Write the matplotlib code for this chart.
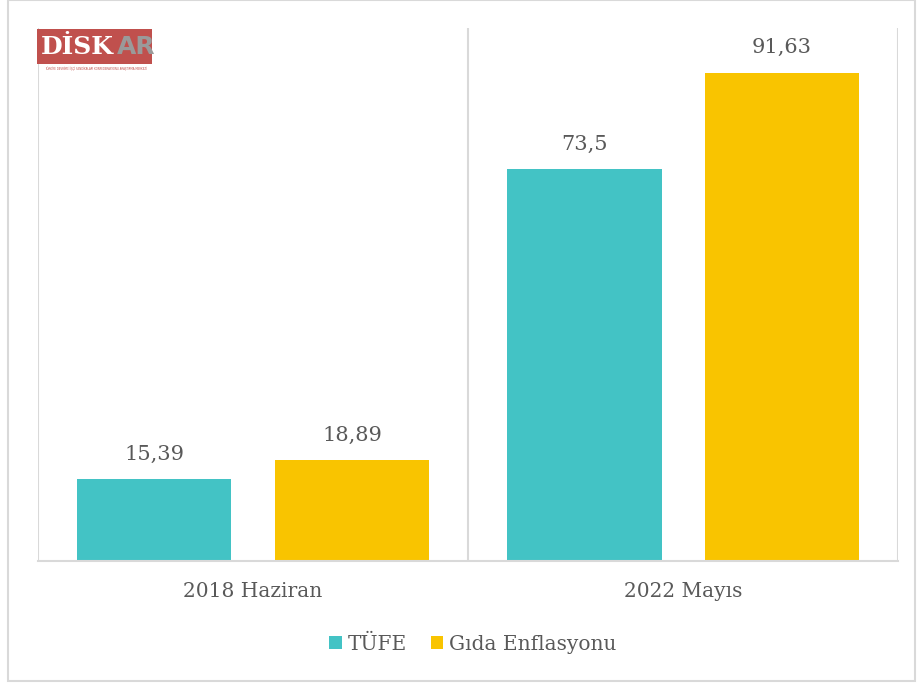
import numpy as np
import matplotlib.pyplot as plt
from matplotlib.patches import Rectangle

# veriler
categories = ["2018 Haziran", "2022 Mayıs"]
tufe = [15.39, 73.5]
gida = [18.89, 91.63]
tufe_labels = ["15,39", "73,5"]
gida_labels = ["18,89", "91,63"]
series_names = ["TÜFE", "Gıda Enflasyonu"]

TEAL = "#43C3C5"
YELLOW = "#F9C400"
TEXT = "#595959"
GRID = "#D9D9D9"

plt.rcParams["font.family"] = ["DejaVu Serif"]

fig = plt.figure(figsize=(9.18, 6.84), dpi=100)
W, H = 918, 684
ax = fig.add_axes([38 / W, 1 - 561 / H, (898 - 38) / W, (561 - 28) / H])

x = np.arange(len(categories))
width = 0.36
offset = 0.23
b1 = ax.bar(x - offset, tufe, width, color=TEAL, label=series_names[0], zorder=2)
b2 = ax.bar(x + offset, gida, width, color=YELLOW, label=series_names[1], zorder=2)

for bars, labels in ((b1, tufe_labels), (b2, gida_labels)):
    for rect, lab in zip(bars, labels):
        ax.annotate(lab, (rect.get_x() + rect.get_width() / 2, rect.get_height()),
                    xytext=(0, 11), textcoords="offset points", ha="center", va="bottom",
                    fontsize=15, color=TEXT)

ax.set_xlim(-0.5, 1.5)
ax.set_ylim(0, 100)
ax.set_yticks([])
ax.set_xticks(x)
ax.set_xticklabels(categories, fontsize=14.5, color=TEXT)
ax.tick_params(axis="x", length=0, pad=15)

# kategori ayırıcı çizgiler
for xv in (-0.5, 0.5, 1.5):
    ax.axvline(xv, color=GRID, lw=1.5, zorder=1)
for s in ("top", "right", "left"):
    ax.spines[s].set_visible(False)
ax.spines["bottom"].set_color(GRID)
ax.spines["bottom"].set_linewidth(1.5)

leg = fig.legend(handles=[b1, b2], loc="center", bbox_to_anchor=(473 / W, 1 - 644 / H),
                 ncol=2, frameon=False, fontsize=14.5, handlelength=0.6, handleheight=0.6,
                 handletextpad=0.3, columnspacing=1.2)
for t in leg.get_texts():
    t.set_color(TEXT)

# dış çerçeve
fig.patches.append(Rectangle((8 / W, 3 / H), (915 - 8) / W, (684 - 3) / H,
                             transform=fig.transFigure, fill=False, ec=GRID, lw=1.5))

# logo
fig.patches.append(Rectangle((37 / W, 1 - 64 / H), (152 - 37) / W, (64 - 29) / H,
                             transform=fig.transFigure, fc="#C0504D", ec="none", zorder=5))
fig.text(41 / W, 1 - 47 / H, "DİSK", fontsize=18, fontweight="bold", color="white",
         va="center", ha="left", zorder=6)
fig.text(117 / W, 1 - 47 / H, "AR", fontsize=18, fontweight="bold", color="#9A9A9A",
         family="DejaVu Sans", va="center", ha="left", zorder=6)
fig.text(96 / W, 1 - 68.5 / H, "TÜRKİYE DEVRİMCİ İŞÇİ SENDİKALARI KONFEDERASYONU ARAŞTIRMA MERKEZİ",
         fontsize=1.9, color="#C0504D", family="DejaVu Sans", ha="center", va="center", zorder=6)

fig.savefig("out.png", dpi=100)
